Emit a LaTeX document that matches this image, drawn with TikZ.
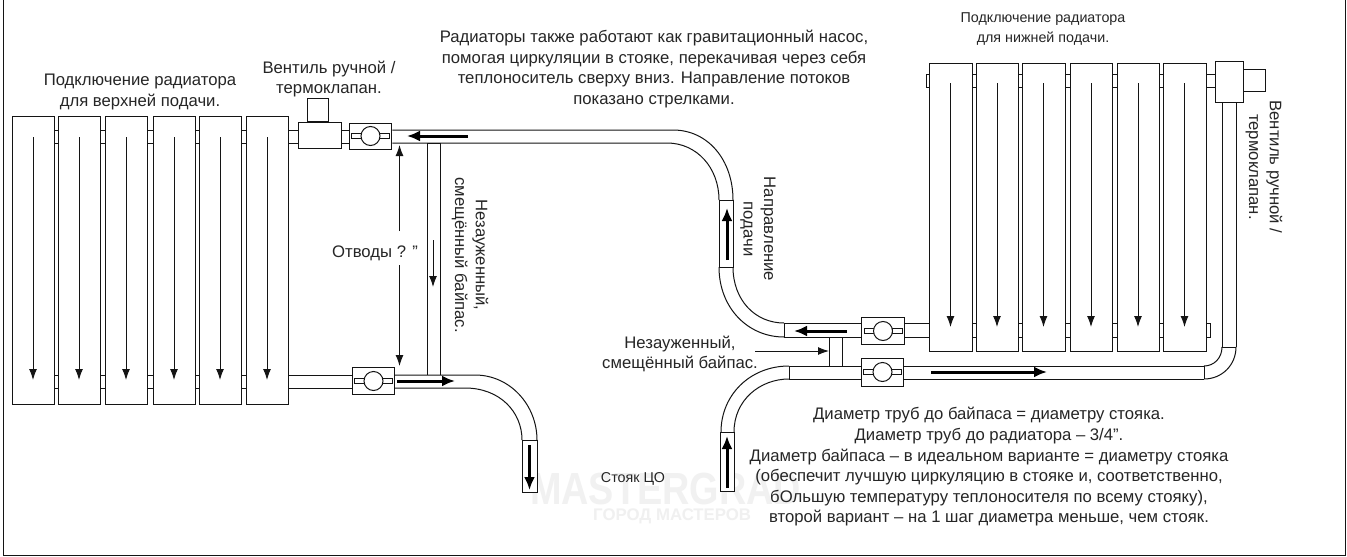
\documentclass[tikz,border=0pt]{standalone}
\usepackage{fontspec}
\setmainfont{Liberation Sans}
\usetikzlibrary{arrows.meta}
\definecolor{ink}{gray}{0.08}
\definecolor{txt}{gray}{0.15}
\tikzset{
 x=1pt,y=-1pt,
 pipe/.style={draw=ink,line width=1pt,fill=white},
 ln/.style={draw=ink,line width=1pt},
 thin arrow/.style={draw=ink,line width=1pt,-{Latex[length=11pt,width=8pt]}},
 thick arrow/.style={draw=black,line width=3pt,-{Latex[length=13pt,width=11pt]}},
 label/.style={font=\fontsize{16.7}{20.6}\selectfont,text=txt,align=center,inner sep=0pt},
 smalllabel/.style={font=\fontsize{14.3}{20.2}\selectfont,text=txt,align=center,inner sep=0pt},
 wmark/.style={font=\bfseries\fontsize{45}{45}\selectfont,text=gray!11,inner sep=0pt,xscale=0.84},
 wmarktwo/.style={font=\bfseries\fontsize{16.8}{17}\selectfont,text=gray!12,inner sep=0pt},
}
\newcommand{\radsec}[7]{%
 \node[pipe,minimum width=#3pt-#2pt,minimum height=#5pt-#4pt,inner sep=0pt,anchor=north west] (#1) at (#2,#4) {};
 \coordinate (#1a) at ({(#2+#3)/2},#6);
 \coordinate (#1b) at ({(#2+#3)/2},#7);
 \draw[thin arrow] (#1a) -- (#1b);}
\newcommand{\tie}[4]{%
 \draw[ln] (#1,#3) -- (#2,#3) (#1,#4) -- (#2,#4);}
\newcommand{\ballvalve}[4]{%
 \node[pipe,minimum width=42.5pt,minimum height=2*#4 pt,inner sep=0pt] (#1) at (#2,#3) {};
 \node[pipe,minimum width=10pt,minimum height=5pt,inner sep=0pt] (#1l) at (#2-14,#3) {};
 \node[pipe,minimum width=10pt,minimum height=5pt,inner sep=0pt] (#1r) at (#2+14,#3) {};
 \node[pipe,circle,minimum size=19pt,inner sep=0pt] (#1c) at (#2,#3) {};}
\begin{document}
\begin{tikzpicture}
\useasboundingbox (0,0) rectangle (1347,557);
\fill[white] (0,0) rectangle (1347,557);
\draw[ln] (3,-2) -- (3,555) -- (1345,555) -- (1345,-2);
% watermark
\node[wmark,anchor=west] (wm1) at (530,489) {MASTERGRAD};
\node[wmarktwo,anchor=west] (wm2) at (593,516) {ГОРОД МАСТЕРОВ};

% ---------- left radiator
\foreach \a/\b in {54/58,100/105,147/153,195/199,241/246}{
 \tie{\a}{\b}{130}{143}\tie{\a}{\b}{375}{388}}
\radsec{L1}{12}{54}{116}{404}{137}{380}
\radsec{L2}{58}{100}{116}{404}{137}{380}
\radsec{L3}{105}{147}{116}{404}{137}{380}
\radsec{L4}{153}{195}{116}{404}{137}{380}
\radsec{L5}{199}{241}{116}{404}{137}{380}
\radsec{L6}{246}{288}{116}{404}{137}{380}
% upper left pipes and valves
\tie{288}{298}{130}{143}
\tie{342}{349}{130}{143}
\node[pipe,minimum width=21pt,minimum height=23pt,inner sep=0pt,anchor=south] (Lcap) at (318,122) {};
\node[pipe,minimum width=43pt,minimum height=26pt,inner sep=0pt,anchor=north west] (Lvalve) at (298,122) {};
\ballvalve{LB1}{370.5}{136}{13}
% bypass left
\draw[ln] (427,143) -- (427,375) (440,143) -- (440,375) (427,143) -- (440,143);
\coordinate (Lbpa) at (433,240);
\coordinate (Lbpb) at (433,287);
\draw[thin arrow] (Lbpa) -- (Lbpb);
% top pipe with bend
\coordinate (T1o) at (392,130);
\coordinate (T1i) at (392,143);
\draw[ln] (LB1.east |- T1o) -- (673,130) .. controls (708,130) and (733,160) .. (733,200);
\draw[ln] (LB1.east |- T1i) -- (667,143) .. controls (697,143) and (719,168) .. (719,200);
\node[pipe,minimum width=14pt,minimum height=67pt,inner sep=0pt,anchor=north] (Mbox) at (726,200) {};
\draw[ln] (733,267) .. controls (733,300) and (755,323) .. (784,323);
\draw[ln] (719,267) .. controls (719,308) and (748,337) .. (784,337);
\coordinate (Marrow1) at (727,260);
\coordinate (Marrow2) at (727,208);
\draw[thick arrow] (Marrow1) -- (Marrow2);
\coordinate (TopA1) at (468,136);
\coordinate (TopA2) at (407,136);
\draw[thick arrow] (TopA1) -- (TopA2);
% lower left pipe
\tie{288}{352}{375}{388}
\ballvalve{LB2}{373.5}{381}{13.5}
\draw[ln] (395,375) -- (475,375) .. controls (510,375) and (537,405) .. (537,440);
\draw[ln] (395,388) -- (465,388) .. controls (500,388) and (522,412) .. (522,440);
\node[pipe,minimum width=15pt,minimum height=52pt,inner sep=0pt,anchor=north] (Rise1) at (529.5,440) {};
\coordinate (La1) at (397,381);
\coordinate (La2) at (455,381);
\draw[thick arrow] (La1) -- (La2);
\coordinate (Ra1) at (529.5,445);
\coordinate (Ra2) at (529.5,490);
\draw[thick arrow] (Ra1) -- (Ra2);
% otvody
\node[label] (otv) at (375,253) {Отводы ? "};
\coordinate (o1) at (399.5,231);
\coordinate (o2) at (399.5,145);
\coordinate (o3) at (399.5,265);
\coordinate (o4) at (399.5,366);
\draw[thin arrow] (o1) -- (o2);
\draw[thin arrow] (o3) -- (o4);

% ---------- right radiator
\foreach \a/\b in {972/976,1018/1022,1065/1070,1112/1117,1159/1163}{
 \tie{\a}{\b}{74}{87}\tie{\a}{\b}{323}{337}}
\radsec{R1}{929}{972}{63}{351}{83}{327}
\radsec{R2}{976}{1018}{63}{351}{83}{327}
\radsec{R3}{1022}{1065}{63}{351}{83}{327}
\radsec{R4}{1070}{1112}{63}{351}{83}{327}
\radsec{R5}{1117}{1159}{63}{351}{83}{327}
\radsec{R6}{1163}{1206}{63}{351}{83}{327}
\draw[ln] (1206,323) -- (1210,323) -- (1210,337) -- (1206,337);
\draw[ln] (929,74) -- (926,74) -- (926,87) -- (929,87);
% right top valve
\tie{1206}{1215}{74}{87}
\draw[ln] (1222,102) -- (1222,347) (1236,102) -- (1236,347) (1222,347) -- (1236,347);
\node[pipe,minimum width=22pt,minimum height=22pt,inner sep=0pt,anchor=north west] (Rcap) at (1243,69) {};
\node[pipe,minimum width=28pt,minimum height=41pt,inner sep=0pt,anchor=north west] (Rvalve) at (1215,61) {};
% mid pipes
\tie{784}{929}{323}{337}
\draw[ln] (784,323) -- (784,337);
\ballvalve{RB1}{883}{331}{13.5}
\draw[ln] (829,337) -- (829,366) (842,337) -- (842,366);
\coordinate (Rp1) at (847,331);
\coordinate (Rp2) at (794,331);
\draw[thick arrow] (Rp1) -- (Rp2);
% lower right pipe
\draw[ln] (789,366) -- (1204,366) (789,379) -- (1204,379) (789,366) -- (789,379) (1204,366) -- (1204,379);
\draw[ln] (1204,366) .. controls (1214,366) and (1222,358) .. (1222,347);
\draw[ln] (1204,379) .. controls (1222,379) and (1236,365) .. (1236,347);
\ballvalve{RB2}{882.5}{372}{14}
\coordinate (Rl1) at (931,372);
\coordinate (Rl2) at (1047,372);
\draw[thick arrow] (Rl1) -- (Rl2);
\draw[ln] (789,366) .. controls (750,366) and (721,395) .. (721,432);
\draw[ln] (789,379) .. controls (760,379) and (734,400) .. (734,432);
\node[pipe,minimum width=14pt,minimum height=59pt,inner sep=0pt,anchor=north] (Rise2) at (727,432) {};
\coordinate (Ru1) at (727,488);
\coordinate (Ru2) at (727,436);
\draw[thick arrow] (Ru1) -- (Ru2);
% bypass label + arrow
\node[label] (bp) at (680,354) {Незауженный,\\смещённый байпас.};
\coordinate (bpa) at (755,351);
\coordinate (bpb) at (829,351);
\draw[thin arrow] (bpa) -- (bpb);

% ---------- texts
\node[label] (t1) at (140,92) {Подключение радиатора\\для верхней подачи.};
\node[label] (t2) at (329,79) {Вентиль ручной /\\термоклапан.};
\node[label] (t3) at (654,69) {Радиаторы также работают как гравитационный насос,\\помогая циркуляции в стояке, перекачивая через себя\\теплоноситель сверху вниз. Направление потоков\\показано стрелками.};
\node[smalllabel] (t4) at (1043,29) {Подключение радиатора\\для нижней подачи.};
\node[label,rotate=-90] (t5) at (1264,167) {Вентиль ручной /\\термоклапан.};
\node[label,rotate=-90] (t6) at (470,255) {Незауженный,\\смещённый байпас.};
\node[label,rotate=-90] (t7) at (758,229) {Направление\\подачи};
\node[label] (t8) at (989,467) {Диаметр труб до байпаса = диаметру стояка.\\Диаметр труб до радиатора – 3/4".\\Диаметр байпаса – в идеальном варианте = диаметру стояка\\(обеспечит лучшую циркуляцию в стояке и, соответственно,\\бОльшую температуру теплоносителя по всему стояку),\\второй вариант – на 1 шаг диаметра меньше, чем стояк.};
\node[smalllabel] (t9) at (633,479) {Стояк ЦО};
\end{tikzpicture}
\end{document}
